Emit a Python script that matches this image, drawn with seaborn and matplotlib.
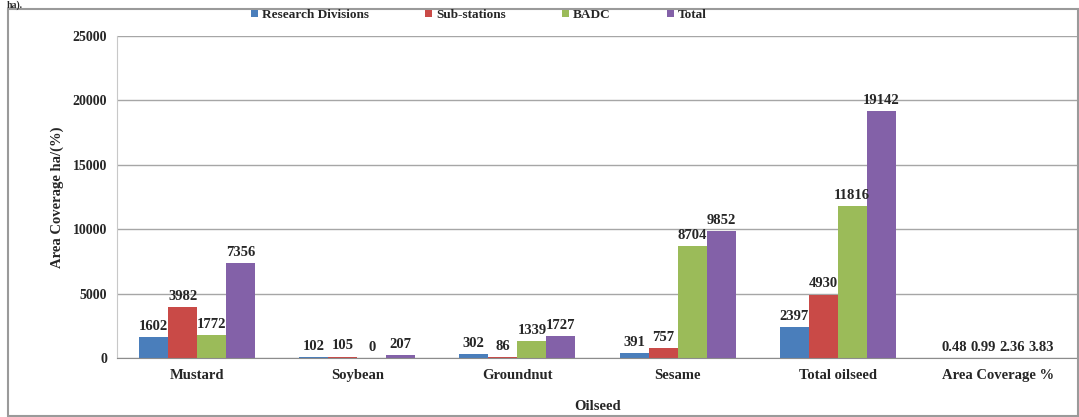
import pandas as pd
import matplotlib
matplotlib.use("Agg")
import matplotlib.pyplot as plt
from matplotlib.patches import Rectangle
import seaborn as sns

sns.set_style("white")
plt.rcParams['font.family'] = ['Liberation Serif', 'DejaVu Serif']
plt.rcParams['font.weight'] = 'bold'

crops = ['Mustard', 'Soybean', 'Groundnut', 'Sesame', 'Total oilseed', 'Area Coverage %']
series = ['Research Divisions', 'Sub-stations', 'BADC', 'Total']
research_divisions = [1602, 102, 302, 391, 2397, 0.48]
sub_stations = [3982, 105, 86, 757, 4930, 0.99]
badc = [1772, 0, 1339, 8704, 11816, 2.36]
total = [7356, 207, 1727, 9852, 19142, 3.83]
label_text = [
    ['1602', '102', '302', '391', '2397', '0.48'],
    ['3982', '105', '86', '757', '4930', '0.99'],
    ['1772', '0', '1339', '8704', '11816', '2.36'],
    ['7356', '207', '1727', '9852', '19142', '3.83'],
]
colors = ['#4A7EBB', '#C94A47', '#9BBB59', '#8361A8']

rows = []
for name, vals in zip(series, [research_divisions, sub_stations, badc, total]):
    for c, v in zip(crops, vals):
        rows.append({'Oilseed': c, 'Series': name, 'Value': v})
df = pd.DataFrame(rows)

fig = plt.figure(figsize=(10.79, 4.17), dpi=100)
ax = fig.add_axes([117 / 1079, 1 - 358 / 417, 961 / 1079, 322 / 417])

sns.barplot(data=df, x='Oilseed', y='Value', hue='Series', palette=colors,
            width=0.725, saturation=1, linewidth=0, ax=ax, legend=True)

for cont, texts in zip(ax.containers, label_text):
    ax.bar_label(cont, labels=texts, padding=3, fontsize=10.5, fontweight='bold')

ax.set_ylim(0, 25000)
ax.set_yticks(range(0, 25001, 5000))
ax.set_xlim(-0.5, len(crops) - 0.5)
ax.yaxis.grid(True, color='#a6a6a6', lw=1)
ax.set_axisbelow(True)
for s in ['top', 'right']:
    ax.spines[s].set_visible(False)
ax.spines['left'].set_color('#c8c8c8')
ax.spines['bottom'].set_color('#8c8c8c')
ax.tick_params(axis='y', length=5, color='#a6a6a6', labelsize=10, pad=2)
ax.tick_params(axis='x', length=0, labelsize=10.5, pad=8)
for t in ax.get_xticklabels() + ax.get_yticklabels():
    t.set_fontweight('bold')

ax.set_xlabel('Oilseed', fontsize=10.5, fontweight='bold', labelpad=13)
ax.set_ylabel('Area Coverage ha/(%)', fontsize=10.5, fontweight='bold', labelpad=6)

ax.legend_.remove()
handles, labels = ax.get_legend_handles_labels()
fig.legend(handles, labels, loc='center', bbox_to_anchor=(479 / 1079, 1 - 15 / 417),
           ncol=4, frameon=False, handlelength=0.5, handleheight=0.5,
           handletextpad=0.3, columnspacing=4.3, prop={'weight': 'bold', 'size': 9.5})

fig.patches.append(Rectangle((8 / 1079, 0.002), 1 - 9 / 1079, 1 - 9 / 417 - 0.002,
                             transform=fig.transFigure, fill=False,
                             edgecolor='#9a9a9a', lw=1.5))
fig.text(0.006, 1.0, 'ha).', fontsize=7, fontweight='bold', va='top', ha='left')

fig.savefig('out.png', dpi=100)
